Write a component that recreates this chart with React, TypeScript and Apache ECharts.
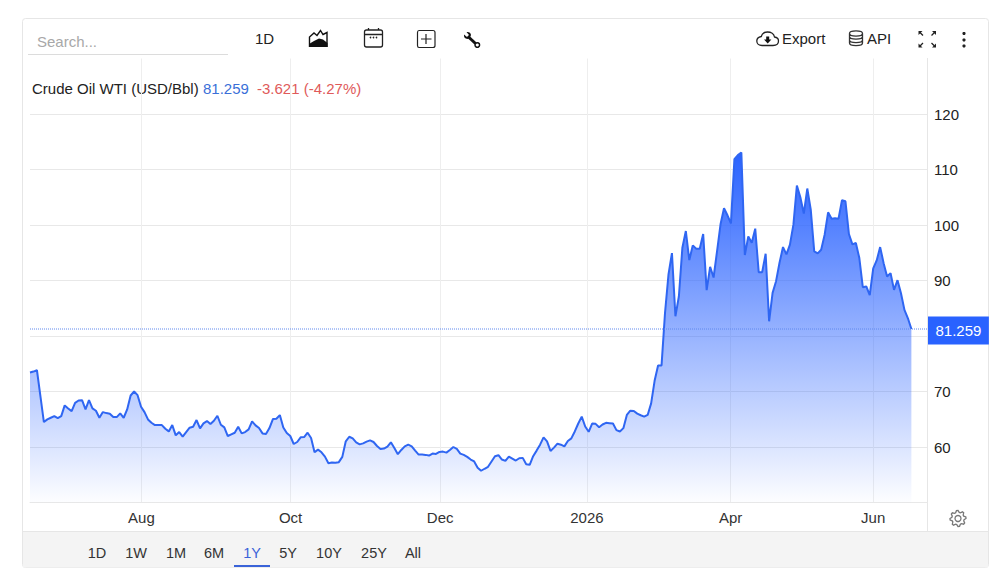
import React, { useEffect, useRef } from "react";
import * as echarts from "echarts";

// Daily closes, one per session
const prices = [
  73.41, 73.59, 73.83, 69.16, 64.49, 64.97, 65.27, 65.57, 65.21, 65.57, 67.49, 66.95, 66.47, 67.96, 68.38, 68.44, 66.77, 68.44, 66.95, 66.53,
  65.27, 66.29, 66.11, 65.99, 65.39, 65.39, 66.05, 65.27, 66.77, 69.28, 70.0, 69.34, 67.25, 66.29, 64.97, 64.37, 63.95, 63.95, 63.95, 63.29,
  62.81, 63.95, 62.1, 62.69, 61.86, 62.69, 63.47, 63.65, 64.85, 63.35, 64.25, 64.67, 64.13, 64.73, 65.63, 64.01, 63.53, 61.98, 62.28, 62.57,
  63.65, 62.45, 62.69, 63.17, 64.61, 63.89, 63.41, 62.45, 62.34, 63.41, 65.03, 65.09, 65.75, 63.53, 62.51, 61.98, 60.54, 60.9, 61.74, 61.8,
  62.57, 61.62, 59.04, 59.52, 59.04, 58.26, 57.07, 57.21, 57.15, 57.27, 58.22, 61.02, 61.85, 61.55, 60.84, 60.48, 60.66, 60.96, 61.19, 60.9,
  60.18, 59.65, 59.71, 60.06, 60.84, 59.83, 58.7, 59.47, 60.12, 60.42, 60.12, 59.35, 58.64, 58.64, 58.58, 58.46, 58.81, 58.75, 59.11, 59.17,
  58.99, 59.47, 60.0, 59.65, 58.81, 58.58, 58.22, 57.74, 57.39, 56.26, 55.72, 56.08, 56.43, 57.39, 58.34, 58.52, 57.74, 57.5, 58.28, 57.92,
  57.56, 57.98, 58.04, 56.91, 56.79, 58.34, 59.35, 60.42, 61.73, 61.02, 59.29, 59.89, 60.6, 60.42, 60.12, 61.08, 61.55, 62.8, 64.23, 65.48,
  63.69, 62.74, 64.23, 64.17, 63.57, 64.05, 64.35, 64.29, 64.23, 63.04, 62.8, 63.4, 65.78, 66.55, 66.49, 66.01, 65.72, 65.48, 65.78, 67.86,
  71.92, 74.7, 74.7, 84.16, 91.08, 94.94, 83.55, 87.17, 95.9, 98.92, 93.67, 96.33, 95.72, 95.72, 98.37, 88.25, 92.47, 90.54, 95.3, 100.12,
  103.01, 101.75, 100.3, 111.87, 112.59, 113.07, 94.58, 97.95, 96.81, 99.34, 91.5, 91.5, 94.82, 82.65, 87.77, 89.88, 93.19, 96.02, 94.7, 96.45,
  100.06, 107.11, 105.0, 102.05, 106.57, 102.77, 95.24, 94.88, 95.54, 98.25, 102.29, 101.14, 101.2, 101.14, 104.46, 104.28, 98.37, 96.51, 96.75, 94.04,
  88.8, 88.92, 87.35, 92.17, 93.61, 96.02, 93.13, 90.72, 91.33, 88.31, 90.06, 87.71, 84.7, 83.19, 81.259,
];
const dateLabels = ["Aug", "Oct", "Dec", "2026", "Apr", "Jun"];
const dateSessions = [32.1, 75.1, 118.2, 160.5, 201.9, 243];
const gridValues = [50, 60, 70, 80, 90, 100, 110, 120];
const priceLabels = [60, 70, 90, 100, 110, 120];
const ranges = ["1D", "1W", "1M", "6M", "1Y", "5Y", "10Y", "25Y", "All"];
const rangeCenters = [97, 136, 176, 214, 252, 288, 329, 374, 413];
const lastPrice = 81.259;
const axisEnd = 258.5;

const FONT = '"Liberation Sans", Arial, sans-serif';
const BLUE = "#2962ff";
const GRID = "#e8e8e8";

function gearPath(cx: number, cy: number) {
  const pts: string[] = [];
  const teeth = 8;
  for (let i = 0; i < teeth * 4; i++) {
    const a = (i / (teeth * 4)) * Math.PI * 2 - Math.PI / 16;
    const r = i % 4 === 0 || i % 4 === 1 ? 8 : 6.2;
    pts.push(`${(cx + r * Math.cos(a)).toFixed(2)} ${(cy + r * Math.sin(a)).toFixed(2)}`);
  }
  return "M" + pts.join("L") + "Z";
}

const icons: Record<string, string> = {
  areaLine: "M309.5 47V37L314 33L317 35.5L320.5 30.5L323 34.5L327 32.5V47",
  areaFill: "M309 47L309 44L314 41L319 38.5L323 39.5L327.5 43L327.5 47Z",
  calendar:
    "M366.5 30H380.5Q382.5 30 382.5 32V45Q382.5 47 380.5 47H366.5Q364.5 47 364.5 45V32Q364.5 30 366.5 30ZM364.5 34.5H382.5M368.5 28V30M378.5 28V30",
  plusBox: "M419 30.5H433Q435 30.5 435 32.5V45.5Q435 47.5 433 47.5H419Q417.5 47.5 417.5 45.5V32.5Q417.5 30.5 419 30.5ZM421 39H431.5M426 34V44",
  wrenchShaft: "M468 36.5L475.5 43.5",
  wrenchHead: "M464 34.5L467 37L469 35L466.5 32Q470.5 31.5 471 35L470 37.5L467.5 39Q463.5 38.5 464 34.5Z",
  cloud:
    "M762 45.5H773C776.5 45.5 778.5 43.5 778.5 41C778.5 39 776.8 37.3 774.5 37C774 34 771 32 767.5 32C764.5 32 762 33.5 761.3 36.5C758.5 37 756.8 39 756.8 41C756.8 43.5 759 45.5 762 45.5Z",
  cloudArrow: "M764 39.5H766.2V36.5H769.2V39.5H771.4L767.7 43.5Z",
  database:
    "M849.5 33.5C849.5 30 862.5 30 862.5 33.5C862.5 37 849.5 37 849.5 33.5ZM849.5 33.5V43C849.5 46.5 862.5 46.5 862.5 43V33.5M849.5 36.5C849.5 40 862.5 40 862.5 36.5M849.5 40C849.5 43.5 862.5 43.5 862.5 40",
  fullscreen:
    "M918.5 31H922.5L918.5 35ZM936 31H932L936 35ZM918.5 47.5H922.5L918.5 43.5ZM936 47.5H932L936 43.5Z",
  fullscreenArms: "M920 32.5L923 35.5M934.5 32.5L931.5 35.5M920 46L923 43M934.5 46L931.5 43",
  gear: gearPath(958, 518.5),
};
Object.keys(icons).forEach((k) => {
  echarts.graphic.registerShape(k, echarts.graphic.extendPath(icons[k], {}));
});

const text = (x: number, y: number, t: string, fill: string, align = "left", size = 15) => ({
  type: "text",
  x,
  y,
  silent: true,
  style: { text: t, fill, font: `${size}px ${FONT}`, textAlign: align, textVerticalAlign: "middle" },
});
const stroked = (type: string, lineWidth = 1.3, stroke = "#222", fill = "none") => ({
  type,
  silent: true,
  style: { stroke, lineWidth, fill },
});
const filled = (type: string, fill = "#111") => ({ type, silent: true, style: { fill, stroke: "none" } });

export default function App() {
  const ref = useRef<HTMLDivElement>(null);
  useEffect(() => {
    const chart = echarts.init(ref.current!, undefined, { renderer: "svg" });
    chart.setOption({
      animation: false,
      backgroundColor: "#fff",
      textStyle: { fontFamily: FONT },
      grid: { left: 30, top: 58.5, width: 897, height: 444, containLabel: false },
      xAxis: {
        type: "value",
        min: 0,
        max: axisEnd,
        axisLine: { show: true, lineStyle: { color: GRID } },
        axisTick: { show: false, customValues: dateSessions },
        splitLine: { show: true, lineStyle: { color: "#eeeeee" } },
        axisLabel: {
          customValues: dateSessions,
          formatter: (v: number) => dateLabels[dateSessions.indexOf(v)] ?? "",
          color: "#333",
          fontSize: 15,
          fontFamily: FONT,
          margin: 7,
          hideOverlap: false,
        },
      },
      yAxis: {
        type: "value",
        position: "right",
        min: 50,
        max: 130,
        axisLine: { show: false },
        axisTick: { show: true, length: 5, customValues: gridValues, lineStyle: { color: GRID } },
        splitLine: { show: true, lineStyle: { color: GRID } },
        axisLabel: {
          customValues: priceLabels,
          color: "#222",
          fontSize: 15,
          fontFamily: FONT,
          margin: 7,
          padding: [0, 0, 2, 0],
        },
      },
      series: [
        {
          type: "line",
          data: prices.map((p, i) => [i, p]),
          showSymbol: false,
          symbol: "none",
          z: 3,
          lineStyle: { color: "#2f66f2", width: 2 },
          areaStyle: {
            opacity: 1,
            color: new echarts.graphic.LinearGradient(0, 0, 0, 1, [
              { offset: 0, color: "rgba(41,98,255,1)" },
              { offset: 1, color: "rgba(41,98,255,0.01)" },
            ]),
          },
        },
        {
          type: "line",
          data: [
            [0, lastPrice],
            [axisEnd, lastPrice],
          ],
          showSymbol: false,
          symbol: "none",
          silent: true,
          z: 4,
          itemStyle: { color: "#5f88ee" },
          lineStyle: { color: "#5f88ee", type: [1, 1], width: 1 },
          endLabel: {
            show: true,
            distance: 1,
            offset: [0, 1.5],
            formatter: "81.259",
            color: "#fff",
            backgroundColor: BLUE,
            fontSize: 15,
            fontFamily: FONT,
            padding: [7, 7.5, 6, 7.5],
          },
        },
      ],
      graphic: {
        elements: [
          { type: "rect", silent: true, shape: { x: 22.5, y: 18.5, width: 966, height: 549, r: 3 }, style: { fill: "none", stroke: "#e6e6e6", lineWidth: 1 } },
          { type: "rect", silent: true, shape: { x: 23, y: 532, width: 965, height: 35.5 }, style: { fill: "#f4f4f4", stroke: "none" } },
          { type: "line", silent: true, shape: { x1: 23, y1: 531.5, x2: 988, y2: 531.5 }, style: { stroke: "#e6e6e6", lineWidth: 1 } },
          { type: "line", silent: true, shape: { x1: 927.5, y1: 58, x2: 927.5, y2: 532 }, style: { stroke: "#e6e6e6", lineWidth: 1 } },
          { type: "line", silent: true, shape: { x1: 28, y1: 54.5, x2: 228, y2: 54.5 }, style: { stroke: "#dcdcdc", lineWidth: 1 } },
          text(37, 41.5, "Search...", "#a8a8a8"),
          text(264.5, 38.5, "1D", "#222", "center"),
          text(782, 38.5, "Export", "#222"),
          text(867, 38.5, "API", "#222"),
          text(32, 88.5, "Crude Oil WTI (USD/Bbl)", "#222"),
          text(203, 88.5, "81.259", "#3a6fd8"),
          text(257, 88.5, "-3.621 (-4.27%)", "#e05a5a"),
          ...ranges.map((r, i) => text(rangeCenters[i], 553, r, r === "1Y" ? "#3a63d8" : "#333", "center", 14.5)),
          { type: "rect", silent: true, shape: { x: 234, y: 565, width: 36, height: 2 }, style: { fill: "#3a63d8", stroke: "none" } },
          stroked("areaLine", 1.4, "#111"),
          filled("areaFill"),
          stroked("calendar", 1.3, "#222"),
          { type: "circle", silent: true, shape: { cx: 370.5, cy: 37.5, r: 0.8 }, style: { fill: "#222" } },
          { type: "circle", silent: true, shape: { cx: 373.5, cy: 37.5, r: 0.8 }, style: { fill: "#222" } },
          { type: "circle", silent: true, shape: { cx: 376.5, cy: 37.5, r: 0.8 }, style: { fill: "#222" } },
          stroked("plusBox", 1.2, "#222"),
          stroked("wrenchShaft", 3, "#111"),
          filled("wrenchHead"),
          { type: "circle", silent: true, shape: { cx: 477.3, cy: 45, r: 2.3 }, style: { fill: "#fff", stroke: "#111", lineWidth: 1.5 } },
          stroked("cloud", 1.3, "#222"),
          filled("cloudArrow"),
          stroked("database", 1.3, "#333"),
          filled("fullscreen", "#222"),
          stroked("fullscreenArms", 1.3, "#222"),
          { type: "circle", silent: true, shape: { cx: 964, cy: 33.5, r: 1.6 }, style: { fill: "#222" } },
          { type: "circle", silent: true, shape: { cx: 964, cy: 40, r: 1.6 }, style: { fill: "#222" } },
          { type: "circle", silent: true, shape: { cx: 964, cy: 46, r: 1.6 }, style: { fill: "#222" } },
          stroked("gear", 1.3, "#777"),
          { type: "circle", silent: true, shape: { cx: 958, cy: 518.5, r: 3 }, style: { fill: "none", stroke: "#777", lineWidth: 1.3 } },
        ],
      },
    });
    return () => chart.dispose();
  }, []);
  return <div ref={ref} style={{ position: "absolute", left: 0, top: 0, width: 1006, height: 581 }} />;
}
